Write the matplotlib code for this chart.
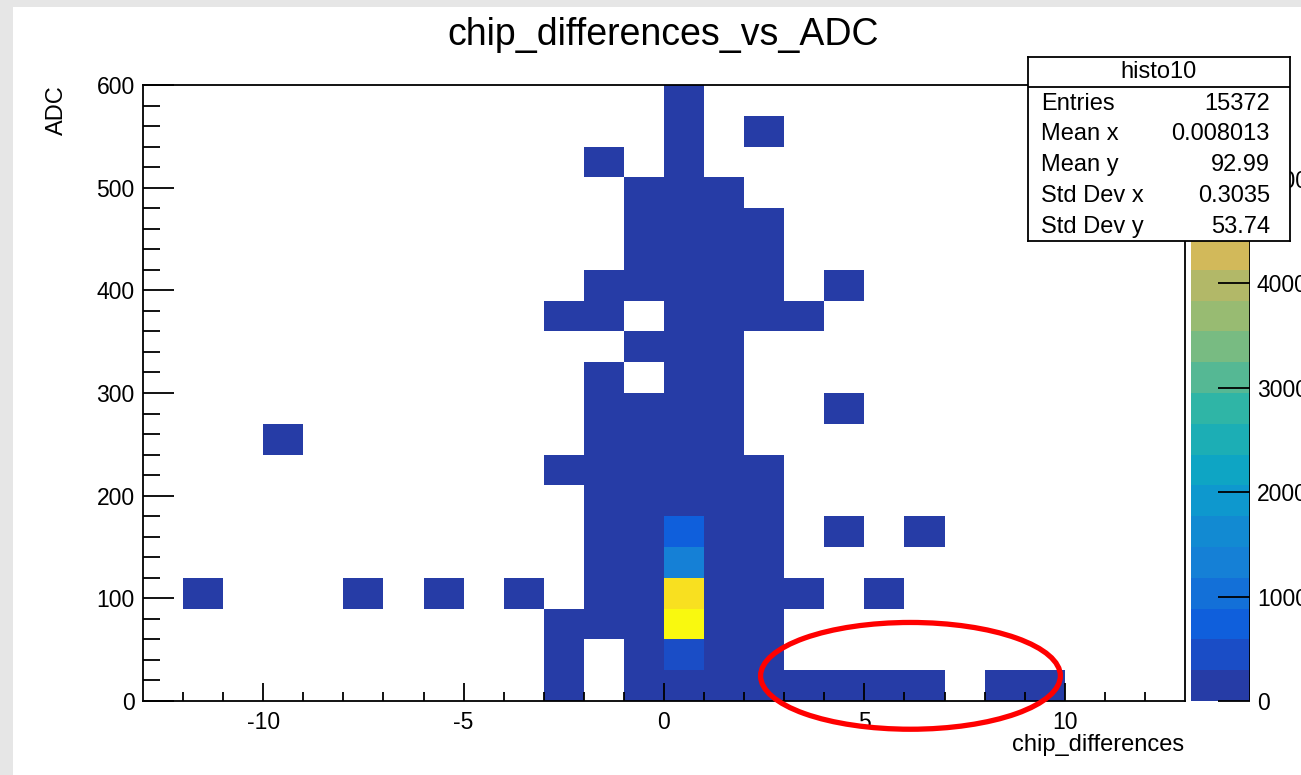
import numpy as np
import matplotlib
matplotlib.use("Agg")
import matplotlib.pyplot as plt
from matplotlib.colors import ListedColormap, BoundaryNorm
from matplotlib.patches import Rectangle, Ellipse
from matplotlib.lines import Line2D

plt.rcParams['font.family'] = ['Liberation Sans', 'DejaVu Sans']
plt.rcParams['axes.unicode_minus'] = False

# ---- data: filled bins of the 2D histogram (bin centres and contents) ----
x_centers = [
    # row ADC 0-30
    -2.5, -0.5, 0.5, 1.5, 2.5, 3.5, 4.5, 5.5, 6.5, 8.5, 9.5,
    # 30-60
    -2.5, -0.5, 0.5, 1.5, 2.5,
    # 60-90
    -2.5, -1.5, -0.5, 0.5, 1.5, 2.5,
    # 90-120
    -11.5, -7.5, -5.5, -3.5, -1.5, -0.5, 0.5, 1.5, 2.5, 3.5, 5.5,
    # 120-150
    -1.5, -0.5, 0.5, 1.5, 2.5,
    # 150-180
    -1.5, -0.5, 0.5, 1.5, 2.5, 4.5, 6.5,
    # 180-210
    -1.5, -0.5, 0.5, 1.5, 2.5,
    # 210-240
    -2.5, -1.5, -0.5, 0.5, 1.5, 2.5,
    # 240-270
    -9.5, -1.5, -0.5, 0.5, 1.5,
    # 270-300
    -1.5, -0.5, 0.5, 1.5, 4.5,
    # 300-330
    -1.5, 0.5, 1.5,
    # 330-360
    -0.5, 0.5, 1.5,
    # 360-390
    -2.5, -1.5, 0.5, 1.5, 2.5, 3.5,
    # 390-420
    -1.5, -0.5, 0.5, 1.5, 2.5, 4.5,
    # 420-450
    -0.5, 0.5, 1.5, 2.5,
    # 450-480
    -0.5, 0.5, 1.5, 2.5,
    # 480-510
    -0.5, 0.5, 1.5,
    # 510-540
    -1.5, 0.5,
    # 540-570
    0.5, 2.5,
    # 570-600
    0.5,
]
y_centers = (
    [15] * 11 + [45] * 5 + [75] * 6 + [105] * 11 + [135] * 5 + [165] * 7 +
    [195] * 5 + [225] * 6 + [255] * 5 + [285] * 5 + [315] * 3 + [345] * 3 +
    [375] * 6 + [405] * 6 + [435] * 4 + [465] * 4 + [495] * 3 + [525] * 2 +
    [555] * 2 + [585] * 1
)
counts = [
    60, 150, 250, 180, 90, 30, 25, 20, 15, 10, 8,
    40, 120, 430, 200, 80,
    50, 90, 200, 5880, 260, 70,
    2, 3, 3, 4, 60, 160, 5450, 230, 60, 10, 3,
    40, 110, 1320, 120, 30,
    30, 60, 730, 80, 20, 2, 2,
    20, 40, 180, 60, 15,
    3, 15, 30, 120, 40, 10,
    1, 8, 20, 80, 25,
    5, 12, 60, 15, 1,
    4, 40, 10,
    3, 30, 8,
    1, 2, 20, 6, 2, 1,
    1, 2, 15, 5, 2, 1,
    1, 10, 4, 1,
    1, 8, 3, 1,
    1, 6, 2,
    1, 5,
    4, 1,
    3,
]

x_edges = np.arange(-13, 14, 1)
y_edges = np.arange(0, 601, 30)
z_max = 5900
n_levels = 20
bird_colors = ['#263ca6', '#1a4dc6', '#0f5fdc', '#1370d8', '#1580d6', '#128ad2',
               '#0e98ce', '#0ea5c4', '#1caeb5', '#2fb5a6', '#55b894', '#78bb82',
               '#98bb72', '#b2b868', '#d2b95a', '#e3be4c', '#f0c43e', '#fbcc30',
               '#f8e020', '#f9f90f']
cbar_ticks = [0, 1000, 2000, 3000, 4000, 5000]

W, H = 1301, 775
fig = plt.figure(figsize=(W / 100, H / 100), dpi=100)
fig.patch.set_facecolor('white')
fig.add_artist(Rectangle((0, 1 - 7 / H), 1, 7 / H, transform=fig.transFigure,
                         facecolor='#e6e6e6', edgecolor='none', zorder=-10))
fig.add_artist(Rectangle((0, 0), 13 / W, 1, transform=fig.transFigure,
                         facecolor='#e6e6e6', edgecolor='none', zorder=-10))

ax = fig.add_axes([143 / W, 1 - 701 / H, (1185 - 143) / W, 616 / H])
cmap = ListedColormap(bird_colors)
norm = BoundaryNorm(np.linspace(0, z_max, n_levels + 1), cmap.N)
h, xe, ye, mesh = ax.hist2d(x_centers, y_centers, bins=[x_edges, y_edges],
                            weights=counts, cmap=cmap, norm=norm, cmin=0.5)
ax.set_xlim(-13, 13)
ax.set_ylim(0, 600)
ax.set_xticks(np.arange(-10, 11, 5))
ax.set_xticks(np.arange(-12, 13, 1), minor=True)
ax.set_yticks(np.arange(0, 601, 100))
ax.set_yticks(np.arange(0, 601, 20), minor=True)
ax.tick_params(which='both', direction='in', top=False, right=False,
               labelsize=16.5, width=1.3, colors='black')
ax.tick_params(axis='x', which='major', length=13, pad=7)
ax.tick_params(axis='x', which='minor', length=6.5)
ax.tick_params(axis='y', which='major', length=22, pad=6)
ax.tick_params(axis='y', which='minor', length=12)
for s in ax.spines.values():
    s.set_linewidth(1.3)

# red ellipse annotation
ax.add_patch(Ellipse((6.15, 24.5), 7.48, 104, fill=False, edgecolor='#ff0000',
                     linewidth=3.8, clip_on=False, zorder=5))

# colour bar
cax = fig.add_axes([1191 / W, 1 - 701 / H, 59 / W, 616 / H])
cb = fig.colorbar(mesh, cax=cax, ticks=cbar_ticks)
cb.outline.set_visible(False)
cb.minorticks_off()
cax.axvline(1, color='black', lw=1.3)
cax.set_ylim(0, z_max)
cax.yaxis.set_ticks_position('right')
cax.tick_params(which='major', direction='in', length=23, width=1.3,
                labelsize=16.5, pad=5)
cax.tick_params(which='minor', length=0)
cax.set_yticklabels([str(t) for t in cbar_ticks])

# texts
fig.text(663 / W, 1 - 35 / H, 'chip_differences_vs_ADC', ha='center', va='center',
         fontsize=27)
fig.text(57 / W, 1 - 85 / H, 'ADC', ha='center', va='top', rotation=90, fontsize=17)
fig.text(1184 / W, 1 - 745 / H, 'chip_differences', ha='right', va='center',
         fontsize=17)

# stats box
ax_s = fig.add_axes([1028 / W, 1 - 241 / H, 262 / W, 184 / H], zorder=10)
ax_s.set_facecolor('white')
ax_s.set_xticks([])
ax_s.set_yticks([])
ax_s.set_xlim(0, 1)
ax_s.set_ylim(0, 1)
for s in ax_s.spines.values():
    s.set_linewidth(1.3)
ax_s.add_line(Line2D([0, 1], [(241 - 87) / 184] * 2, color='black', lw=1.3))
ax_s.text(0.5, (241 - 72) / 184, 'histo10', ha='center', va='center', fontsize=17)
stat_names = ['Entries', 'Mean x', 'Mean y', 'Std Dev x', 'Std Dev y']
stat_values = ['15372', '0.008013', '92.99', '0.3035', '53.74']
stat_rows = [104, 134, 165, 196, 227]
for name, val, yy in zip(stat_names, stat_values, stat_rows):
    ax_s.text(13 / 262, (241 - yy) / 184, name, ha='left', va='center', fontsize=17)
    ax_s.text(242 / 262, (241 - yy) / 184, val, ha='right', va='center', fontsize=17)

fig.savefig('out.png', dpi=100)
